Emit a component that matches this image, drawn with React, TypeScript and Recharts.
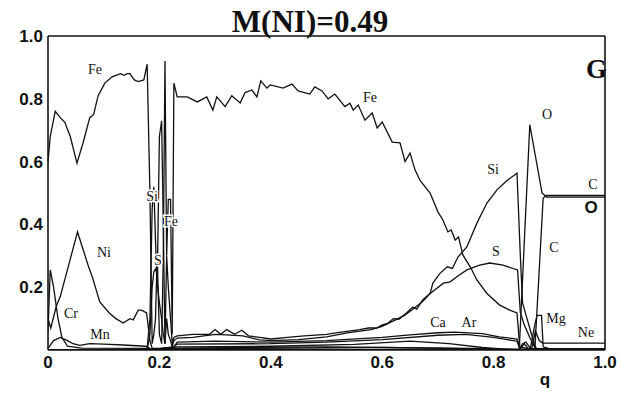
import React from "react";
import { LineChart, Line, XAxis, YAxis } from "recharts";

// abundance profiles: [q, mass fraction]
const FE: [number, number][] = [
  [0, 0.6], [0.004, 0.68], [0.013, 0.76], [0.022, 0.74], [0.03, 0.726], [0.04, 0.68], [0.052, 0.595],
  [0.063, 0.66], [0.075, 0.74], [0.082, 0.75], [0.09, 0.81], [0.102, 0.85], [0.115, 0.87], [0.13, 0.88],
  [0.137, 0.875], [0.142, 0.88], [0.147, 0.88], [0.155, 0.86], [0.162, 0.855], [0.172, 0.86], [0.178, 0.91],
  [0.183, 0.5], [0.187, 0.02], [0.19, 0.05], [0.193, 0.1], [0.196, 0.3], [0.2, 0.05], [0.204, 0.02],
  [0.207, 0.3], [0.21, 0.92], [0.213, 0.3], [0.216, 0.48], [0.22, 0.48], [0.223, 0.05], [0.226, 0.85],
  [0.232, 0.806], [0.25, 0.806], [0.268, 0.79], [0.285, 0.806], [0.296, 0.764], [0.303, 0.806],
  [0.318, 0.775], [0.33, 0.81], [0.345, 0.787], [0.354, 0.82], [0.366, 0.828], [0.375, 0.806],
  [0.382, 0.857], [0.393, 0.834], [0.399, 0.844], [0.422, 0.834], [0.438, 0.847], [0.449, 0.825],
  [0.47, 0.815], [0.479, 0.838], [0.492, 0.825], [0.503, 0.8], [0.515, 0.815], [0.533, 0.775],
  [0.542, 0.786], [0.548, 0.764], [0.557, 0.78], [0.569, 0.732], [0.582, 0.755], [0.591, 0.707],
  [0.6, 0.726], [0.618, 0.662], [0.632, 0.66], [0.641, 0.6], [0.65, 0.627], [0.659, 0.573], [0.668, 0.54],
  [0.686, 0.5], [0.7, 0.44], [0.709, 0.414], [0.718, 0.376], [0.724, 0.382], [0.731, 0.35], [0.737, 0.36],
  [0.745, 0.302], [0.758, 0.265], [0.77, 0.223], [0.788, 0.18], [0.811, 0.143], [0.829, 0.127],
  [0.842, 0.118], [0.847, 0.01], [0.86, 0.005], [1, 0.003],
];

const SI: [number, number][] = [
  [0, 0], [0.17, 0], [0.178, 0.005], [0.183, 0.1], [0.187, 0.45], [0.19, 0.52], [0.193, 0.35],
  [0.196, 0.2], [0.2, 0.68], [0.204, 0.73], [0.207, 0.4], [0.21, 0.02], [0.213, 0.3], [0.216, 0.2],
  [0.22, 0.1], [0.223, 0.02], [0.226, 0.04], [0.232, 0.045], [0.26, 0.05], [0.29, 0.05], [0.3, 0.065],
  [0.31, 0.05], [0.321, 0.065], [0.335, 0.05], [0.348, 0.063], [0.36, 0.045], [0.38, 0.04], [0.4, 0.035],
  [0.43, 0.04], [0.46, 0.045], [0.5, 0.05], [0.52, 0.055], [0.54, 0.06], [0.56, 0.065], [0.575, 0.07],
  [0.59, 0.07], [0.6, 0.08], [0.61, 0.085], [0.62, 0.1], [0.63, 0.098], [0.645, 0.12], [0.655, 0.137],
  [0.662, 0.13], [0.673, 0.16], [0.686, 0.18], [0.691, 0.213], [0.704, 0.245], [0.717, 0.265],
  [0.726, 0.26], [0.736, 0.296], [0.752, 0.328], [0.77, 0.404], [0.788, 0.468], [0.806, 0.51],
  [0.824, 0.54], [0.842, 0.563], [0.848, 0.3], [0.852, 0.15], [0.86, 0.1], [0.868, 0.05], [0.875, 0.01],
  [0.88, 0], [1, 0],
];

const S: [number, number][] = [
  [0, 0], [0.178, 0], [0.183, 0.05], [0.187, 0.2], [0.19, 0.25], [0.194, 0.26], [0.197, 0.2], [0.2, 0.15],
  [0.204, 0.1], [0.207, 0.05], [0.21, 0.02], [0.213, 0.1], [0.216, 0.05], [0.22, 0.03], [0.223, 0.01],
  [0.226, 0.03], [0.232, 0.038], [0.26, 0.04], [0.3, 0.05], [0.32, 0.048], [0.35, 0.045], [0.38, 0.032],
  [0.4, 0.03], [0.45, 0.033], [0.5, 0.042], [0.54, 0.055], [0.58, 0.065], [0.6, 0.075], [0.62, 0.093],
  [0.64, 0.11], [0.655, 0.13], [0.673, 0.155], [0.686, 0.18], [0.71, 0.213], [0.722, 0.217],
  [0.734, 0.233], [0.752, 0.255], [0.775, 0.27], [0.793, 0.277], [0.817, 0.27], [0.843, 0.255],
  [0.848, 0.12], [0.855, 0.08], [0.865, 0.04], [0.875, 0.005], [0.88, 0], [1, 0],
];

const NI: [number, number][] = [
  [0, 0.1], [0.005, 0.07], [0.015, 0.14], [0.022, 0.17], [0.053, 0.376], [0.063, 0.32], [0.072, 0.27],
  [0.08, 0.23], [0.093, 0.153], [0.11, 0.118], [0.122, 0.1], [0.135, 0.086], [0.147, 0.1], [0.153, 0.096],
  [0.162, 0.127], [0.168, 0.127], [0.177, 0.118], [0.183, 0.03], [0.187, 0.005], [0.2, 0.005],
  [0.226, 0.008], [0.232, 0.01], [0.4, 0.012], [0.55, 0.018], [0.65, 0.028], [0.72, 0.02], [0.78, 0.008],
  [0.82, 0.003], [1, 0],
];

const CR: [number, number][] = [
  [0, 0.06], [0.004, 0.255], [0.01, 0.2], [0.018, 0.1], [0.025, 0.04], [0.035, 0.012], [0.06, 0.006],
  [0.18, 0.005], [0.19, 0], [0.232, 0.004], [0.6, 0.008], [0.7, 0.006], [0.8, 0.002], [1, 0],
];

const MN: [number, number][] = [
  [0, 0.005], [0.01, 0.03], [0.022, 0.04], [0.035, 0.03], [0.045, 0.02], [0.057, 0.015], [0.075, 0.02],
  [0.1, 0.019], [0.135, 0.016], [0.175, 0.012], [0.185, 0.003], [0.232, 0.006], [0.5, 0.01],
  [0.8, 0.004], [0.85, 0], [1, 0],
];

const AR: [number, number][] = [
  [0, 0], [0.185, 0], [0.226, 0.01], [0.232, 0.025], [0.3, 0.028], [0.4, 0.025], [0.5, 0.03], [0.6, 0.04],
  [0.65, 0.048], [0.7, 0.055], [0.73, 0.057], [0.78, 0.052], [0.81, 0.042], [0.842, 0.035],
  [0.848, 0.005], [0.855, 0.02], [0.862, 0.005], [1, 0],
];

const CA: [number, number][] = [
  [0, 0], [0.185, 0], [0.226, 0.01], [0.232, 0.019], [0.4, 0.02], [0.5, 0.025], [0.6, 0.033],
  [0.7, 0.047], [0.75, 0.05], [0.8, 0.04], [0.842, 0.028], [0.848, 0], [1, 0],
];

const O: [number, number][] = [[0, 0], [0.846, 0], [0.865, 0.717], [0.887, 0.5], [0.895, 0.487], [1, 0.487]];
const C: [number, number][] = [[0, 0], [0.874, 0], [0.889, 0.484], [0.895, 0.492], [1, 0.492]];
const MG: [number, number][] = [
  [0, 0], [0.846, 0], [0.852, 0.02], [0.858, 0.025], [0.866, 0.005], [0.874, 0.08], [0.878, 0.11],
  [0.886, 0.11], [0.889, 0.01], [0.9, 0.004], [1, 0.004],
];
const NE: [number, number][] = [[0, 0], [0.868, 0], [0.875, 0.06], [0.882, 0.03], [0.888, 0.022], [1, 0.022]];

const SERIES = { FE, SI, S, NI, CR, MN, AR, CA, O, C, MG, NE };

const X_LABEL_TICKS = [0, 0.2, 0.4, 0.6, 0.8, 1];
const Y_LABEL_TICKS = [0.2, 0.4, 0.6, 0.8, 1];
const MINOR_TICKS = Array.from({ length: 21 }, (_, i) => Math.round(i * 5) / 100);

// text labels on the plot: [text, x, y]
const LABELS: [string, number, number][] = [
  ["Fe", 95, 69], ["Fe", 370, 97], ["Si", 152, 196], ["Fe", 171, 221], ["S", 158, 260],
  ["Ni", 104, 252], ["Cr", 71, 313], ["Mn", 100, 334], ["Si", 493, 169], ["O", 547, 114],
  ["C", 593, 184], ["C", 554, 247], ["S", 496, 251], ["Ca", 438, 322], ["Ar", 469, 322],
  ["Mg", 556, 318], ["Ne", 586, 332],
];

const fmt = (v: number) => (v === 0 ? "0" : v.toFixed(1));
const tickFont = { fontFamily: "Liberation Sans, Arial, sans-serif", fontWeight: 700, fontSize: 17, fill: "#111" };
const ink = "#111";
const toRows = (pts: [number, number][]) => pts.map(([q, v]) => ({ q, v }));
const frame = { stroke: ink, strokeWidth: 1.6 };
const minor = { stroke: ink, strokeWidth: 1.3 };

export default function App() {
  return (
    <div style={{ position: "absolute", left: 0, top: 0, width: 620, height: 393, background: "#fff" }}>
      <LineChart width={620} height={393} margin={{ top: 36, right: 15, bottom: 13, left: 8 }}>
        <XAxis
          xAxisId="b"
          dataKey="q"
          type="number"
          domain={[0, 1]}
          ticks={X_LABEL_TICKS}
          tickFormatter={fmt}
          tickLine={false}
          tickSize={0}
          tickMargin={6}
          height={30}
          axisLine={frame}
          tick={tickFont}
          allowDataOverflow
        />
        <YAxis
          yAxisId="l"
          type="number"
          domain={[0, 1]}
          ticks={Y_LABEL_TICKS}
          tickFormatter={fmt}
          tickLine={false}
          tickSize={0}
          tickMargin={5}
          width={40}
          axisLine={frame}
          tick={tickFont}
          allowDataOverflow
        />
        {/* frame axes: inward ticks every 0.05 */}
        <XAxis xAxisId="bm" dataKey="q" type="number" domain={[0, 1]} ticks={MINOR_TICKS} mirror tick={false}
          tickSize={5} axisLine={false} tickLine={minor} height={1} allowDataOverflow />
        <XAxis xAxisId="tm" dataKey="q" orientation="top" type="number" domain={[0, 1]} ticks={MINOR_TICKS} mirror
          tick={false} tickSize={5} axisLine={frame} tickLine={minor} height={1} allowDataOverflow />
        <YAxis yAxisId="lm" type="number" domain={[0, 1]} ticks={MINOR_TICKS} mirror tick={false} tickSize={5}
          axisLine={false} tickLine={minor} width={1} allowDataOverflow />
        <YAxis yAxisId="rm" orientation="right" type="number" domain={[0, 1]} ticks={MINOR_TICKS} mirror
          tick={false} tickSize={5} axisLine={frame} tickLine={minor} width={1} allowDataOverflow />
        <Line xAxisId="bm" yAxisId="lm" data={toRows(NE)} dataKey="v" stroke="none" dot={false} isAnimationActive={false} />
        <Line xAxisId="tm" yAxisId="rm" data={toRows(NE)} dataKey="v" stroke="none" dot={false} isAnimationActive={false} />
        {Object.entries(SERIES).map(([name, pts]) => (
          <Line
            key={name}
            xAxisId="b"
            yAxisId="l"
            data={toRows(pts)}
            dataKey="v"
            type="linear"
            stroke={ink}
            strokeWidth={1.3}
            dot={false}
            isAnimationActive={false}
          />
        ))}
      </LineChart>
      <svg width={620} height={393} style={{ position: "absolute", left: 0, top: 0, pointerEvents: "none" }}>
        <text x={310} y={32} textAnchor="middle" fontFamily="Liberation Serif, Times New Roman, serif" fontWeight={700} fontSize={31} fill={ink}>
          M(NI)=0.49
        </text>
        <text x={586} y={78} fontFamily="Liberation Serif, Times New Roman, serif" fontWeight={700} fontSize={27} fill={ink}>
          G
        </text>
        {LABELS.map(([t, x, y], i) => (
          <text key={i} x={x} y={y} textAnchor="middle" dominantBaseline="central"
            fontFamily="Liberation Serif, Times New Roman, serif" fontSize={14} fill={ink}
            stroke="#fff" strokeWidth={3} paintOrder="stroke">
            {t}
          </text>
        ))}
        <text x={591} y={207} textAnchor="middle" dominantBaseline="central" {...tickFont}>O</text>
        <text x={545} y={379} textAnchor="middle" dominantBaseline="central" {...tickFont}>q</text>
      </svg>
    </div>
  );
}
